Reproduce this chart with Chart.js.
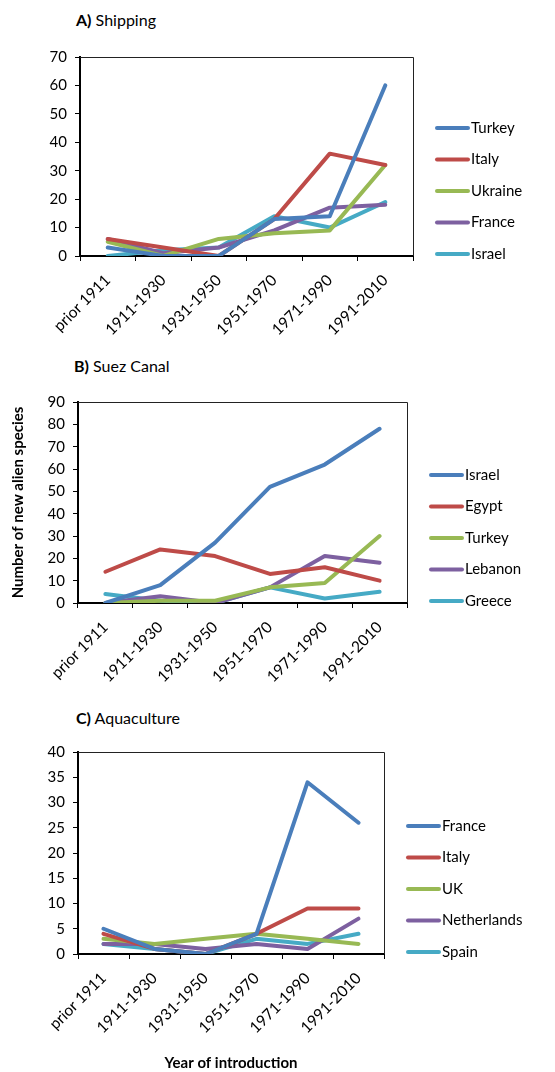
<!DOCTYPE html>
<html>
<head>
<meta charset="utf-8">
<script src="https://cdn.jsdelivr.net/npm/chart.js@4.4.1/dist/chart.umd.min.js"></script>
<style>
    body { margin: 0; background: #fff; width: 555px; height: 1072px; position: relative; overflow: hidden; font-family: Lato, sans-serif; }
    .panel { position: absolute; left: 0; width: 555px; }
    .title { position: absolute; font-size: 16px; color: #000; white-space: nowrap; }
</style>
</head>
<body>
<div class="title" style="left:76px; top:10px"><b>A)</b> Shipping</div>
<div class="panel" style="top:40px; height:305px"><canvas id="chartA"></canvas></div>

<div class="title" style="left:74px; top:356px"><b>B)</b> Suez Canal</div>
<div class="panel" style="top:385px; height:305px"><canvas id="chartB"></canvas></div>

<div class="title" style="left:76px; top:708px"><b>C)</b> Aquaculture</div>
<div class="panel" style="top:735px; height:337px"><canvas id="chartC"></canvas></div>

<script>
// Categories
const periods = ['prior 1911', '1911-1930', '1931-1950', '1951-1970', '1971-1990', '1991-2010'];

// A) Shipping
const shippingCountries = ['Turkey', 'Italy', 'Ukraine', 'France', 'Israel'];
const shippingTurkey  = [3, 0, 0, 13, 14, 60];
const shippingItaly   = [6, 3, 0, 13, 36, 32];
const shippingUkraine = [5, 0, 6, 8, 9, 32];
const shippingFrance  = [6, 1, 3, 9, 17, 18];
const shippingIsrael  = [0, 2, 3, 14, 10, 19];

// B) Suez Canal
const suezCountries = ['Israel', 'Egypt', 'Turkey', 'Lebanon', 'Greece'];
const suezIsrael  = [0, 8, 27, 52, 62, 78];
const suezEgypt   = [14, 24, 21, 13, 16, 10];
const suezTurkey  = [0, 1, 1, 7, 9, 30];
const suezLebanon = [0, 3, 0, 7, 21, 18];
const suezGreece  = [4, 1, 0, 7, 2, 5];

// C) Aquaculture
const aquaCountries = ['France', 'Italy', 'UK', 'Netherlands', 'Spain'];
const aquaFrance      = [5, 1, 0, 4, 34, 26];
const aquaItaly       = [4, 1, 0, 4, 9, 9];
const aquaUK          = [3, 2, 3, 4, 3, 2];
const aquaNetherlands = [2, 2, 1, 2, 1, 7];
const aquaSpain       = [2, 1, 0, 3, 2, 4];

// Y axis tick settings
const shippingMax = 70, shippingStep = 10;
const suezMax = 90, suezStep = 10;
const aquaMax = 40, aquaStep = 5;

const seriesColors = ['#4A7EBB', '#BE4B48', '#98B954', '#7D60A0', '#46AAC5'];
const fontFamily = 'Lato, sans-serif';

// Thin frame on top and right of the plot area
const plotFrame = {
    id: 'plotFrame',
    beforeDatasetsDraw(chart) {
        const { ctx, chartArea: a } = chart;
        ctx.save();
        ctx.strokeStyle = '#222';
        ctx.lineWidth = 1;
        ctx.beginPath();
        ctx.moveTo(a.left, a.top + 0.5);
        ctx.lineTo(a.right + 0.5, a.top + 0.5);
        ctx.lineTo(a.right + 0.5, a.bottom);
        ctx.stroke();
        ctx.restore();
    }
};

// Legend on the right, bottom entry level with the x axis
const sideLegend = {
    id: 'sideLegend',
    afterDraw(chart) {
        const { ctx, chartArea: a } = chart;
        const sets = chart.data.datasets;
        ctx.save();
        ctx.font = '15px ' + fontFamily;
        ctx.textBaseline = 'middle';
        ctx.lineCap = 'round';
        sets.forEach((ds, i) => {
            const y = a.bottom - 2 - (sets.length - 1 - i) * 31.5;
            const x = a.right + 24;
            ctx.strokeStyle = ds.borderColor;
            ctx.lineWidth = 4;
            ctx.beginPath();
            ctx.moveTo(x, y);
            ctx.lineTo(x + 31, y);
            ctx.stroke();
            ctx.fillStyle = '#000';
            ctx.fillText(ds.label, x + 34, y);
        });
        ctx.restore();
    }
};

function makeChart(id, names, series, yMax, yStep, box) {
    return new Chart(document.getElementById(id), {
        type: 'line',
        data: {
            labels: periods,
            datasets: series.map((values, i) => ({
                label: names[i],
                data: values,
                borderColor: seriesColors[i],
                backgroundColor: seriesColors[i],
                borderWidth: 4,
                pointRadius: 0,
                tension: 0,
                borderJoinStyle: 'round',
                borderCapStyle: 'round'
            }))
        },
        options: {
            responsive: true,
            maintainAspectRatio: false,
            animation: false,
            layout: { padding: { top: box.top, right: box.right, bottom: 0, left: 0 } },
            plugins: {
                legend: { display: false },
                tooltip: { enabled: false }
            },
            scales: {
                x: {
                    offset: true,
                    grid: { drawOnChartArea: false, drawTicks: true, tickLength: 5, color: '#000', lineWidth: 1, offset: true },
                    border: { color: '#000', width: 2 },
                    ticks: {
                        color: '#000',
                        font: { family: fontFamily, size: 15.5 },
                        minRotation: 45,
                        maxRotation: 45,
                        autoSkip: false,
                        padding: 10
                    },
                    title: box.xTitle ? {
                        display: true,
                        text: box.xTitle,
                        color: '#000',
                        font: { family: fontFamily, size: 15, weight: 'bold' },
                        padding: { top: 0, bottom: 0 }
                    } : { display: false },
                    afterFit: s => { s.height = box.xHeight; }
                },
                y: {
                    min: 0,
                    max: yMax,
                    grid: { drawOnChartArea: false, drawTicks: true, tickLength: 5, color: '#000', lineWidth: 1 },
                    border: { color: '#000', width: 2 },
                    ticks: {
                        stepSize: yStep,
                        color: '#000',
                        font: { family: fontFamily, size: 15 },
                        padding: 8
                    },
                    title: box.yTitle ? {
                        display: true,
                        text: box.yTitle,
                        color: '#000',
                        font: { family: fontFamily, size: 15, weight: 'bold' },
                        padding: { top: 9, bottom: 0 }
                    } : { display: false },
                    afterFit: s => { s.width = box.yWidth; }
                }
            }
        },
        plugins: [plotFrame, sideLegend]
    });
}

makeChart('chartA', shippingCountries,
    [shippingTurkey, shippingItaly, shippingUkraine, shippingFrance, shippingIsrael],
    shippingMax, shippingStep,
    { top: 14, right: 142, yWidth: 80, xHeight: 89 });

makeChart('chartB', suezCountries,
    [suezIsrael, suezEgypt, suezTurkey, suezLebanon, suezGreece],
    suezMax, suezStep,
    { top: 16, right: 148, yWidth: 78, xHeight: 87, yTitle: 'Number of new alien species' });

makeChart('chartC', aquaCountries,
    [aquaFrance, aquaItaly, aquaUK, aquaNetherlands, aquaSpain],
    aquaMax, aquaStep,
    { top: 17, right: 171, yWidth: 78, xHeight: 118, xTitle: 'Year of introduction' });
</script>
</body>
</html>
